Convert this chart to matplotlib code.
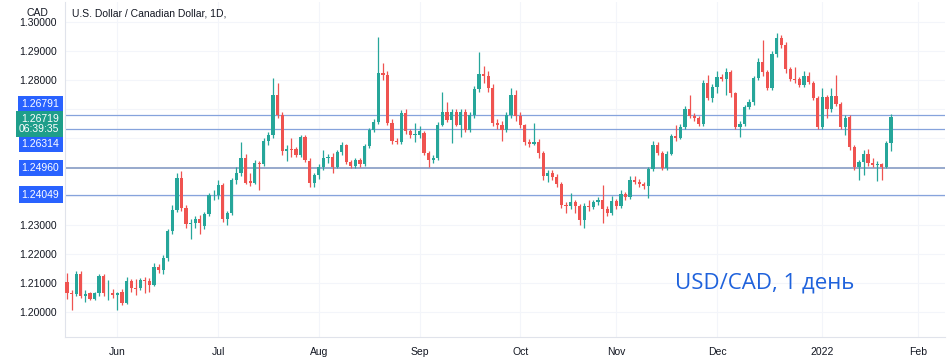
import numpy as np
import pandas as pd
import matplotlib
matplotlib.use("Agg")
import matplotlib.pyplot as plt

# daily candles USD/CAD, from 17 May 2021
opens = [1.2104, 1.2066, 1.2062, 1.2131, 1.2057, 1.2064, 1.2044, 1.2064, 1.2124, 1.2064,
         1.2067, 1.2060, 1.2069, 1.2032, 1.2107, 1.2082, 1.2082, 1.2111, 1.2108, 1.2094,
         1.2155, 1.2146, 1.2186, 1.2278, 1.2353, 1.2462, 1.2359, 1.2305, 1.2308, 1.2322,
         1.2297, 1.2337, 1.2402, 1.2404, 1.2437, 1.2320, 1.2343, 1.2455, 1.2479, 1.2531,
         1.2452, 1.2445, 1.2514, 1.2512, 1.2590, 1.2610, 1.2748, 1.2679, 1.2555, 1.2562,
         1.2562, 1.2541, 1.2603, 1.2522, 1.2446, 1.2472, 1.2500, 1.2531, 1.2533, 1.2500,
         1.2552, 1.2575, 1.2518, 1.2503, 1.2524, 1.2510, 1.2572, 1.2628, 1.2655, 1.2824,
         1.2817, 1.2652, 1.2590, 1.2588, 1.2686, 1.2624, 1.2612, 1.2612, 1.2617, 1.2548,
         1.2524, 1.2531, 1.2645, 1.2690, 1.2662, 1.2690, 1.2645, 1.2690, 1.2628, 1.2679,
         1.2769, 1.2821, 1.2814, 1.2772, 1.2652, 1.2645, 1.2628, 1.2679, 1.2748, 1.2676,
         1.2645, 1.2586, 1.2581, 1.2586, 1.2548, 1.2470, 1.2479, 1.2466, 1.2441, 1.2369,
         1.2366, 1.2378, 1.2366, 1.2317, 1.2366, 1.2362, 1.2378, 1.2386, 1.2355, 1.2340,
         1.2383, 1.2366, 1.2407, 1.2395, 1.2455, 1.2448, 1.2441, 1.2434, 1.2493, 1.2576,
         1.2548, 1.2497, 1.2545, 1.2607, 1.2600, 1.2638, 1.2700, 1.2676, 1.2669, 1.2648,
         1.2790, 1.2738, 1.2776, 1.2810, 1.2803, 1.2828, 1.2755, 1.2638, 1.2648, 1.2707,
         1.2724, 1.2807, 1.2862, 1.2828, 1.2772, 1.2890, 1.2945, 1.2921, 1.2838, 1.2803,
         1.2803, 1.2783, 1.2814, 1.2790, 1.2738, 1.2638, 1.2741, 1.2700, 1.2745, 1.2719,
         1.2638, 1.2672, 1.2569, 1.2500, 1.2517, 1.2545, 1.2514, 1.2507, 1.2510, 1.2500,
         1.2583]
highs = [1.2135, 1.2075, 1.2140, 1.2140, 1.2075, 1.2070, 1.2070, 1.2130, 1.2132, 1.2110,
         1.2080, 1.2070, 1.2080, 1.2120, 1.2115, 1.2115, 1.2118, 1.2120, 1.2118, 1.2170,
         1.2165, 1.2195, 1.2285, 1.2370, 1.2479, 1.2485, 1.2370, 1.2320, 1.2330, 1.2335,
         1.2345, 1.2410, 1.2420, 1.2455, 1.2445, 1.2350, 1.2462, 1.2500, 1.2586, 1.2545,
         1.2480, 1.2525, 1.2520, 1.2600, 1.2620, 1.2807, 1.2790, 1.2690, 1.2575, 1.2600,
         1.2570, 1.2610, 1.2610, 1.2530, 1.2480, 1.2510, 1.2560, 1.2545, 1.2550, 1.2560,
         1.2585, 1.2580, 1.2525, 1.2530, 1.2530, 1.2580, 1.2635, 1.2665, 1.2949, 1.2860,
         1.2830, 1.2665, 1.2600, 1.2697, 1.2700, 1.2630, 1.2652, 1.2640, 1.2625, 1.2555,
         1.2540, 1.2655, 1.2760, 1.2725, 1.2700, 1.2700, 1.2700, 1.2700, 1.2690, 1.2780,
         1.2897, 1.2850, 1.2830, 1.2785, 1.2665, 1.2660, 1.2690, 1.2772, 1.2765, 1.2690,
         1.2650, 1.2595, 1.2652, 1.2595, 1.2555, 1.2490, 1.2490, 1.2475, 1.2450, 1.2380,
         1.2410, 1.2385, 1.2372, 1.2375, 1.2385, 1.2385, 1.2395, 1.2438, 1.2365, 1.2400,
         1.2390, 1.2420, 1.2415, 1.2470, 1.2470, 1.2460, 1.2450, 1.2500, 1.2590, 1.2585,
         1.2555, 1.2555, 1.2615, 1.2645, 1.2650, 1.2710, 1.2748, 1.2685, 1.2675, 1.2800,
         1.2817, 1.2785, 1.2830, 1.2820, 1.2840, 1.2835, 1.2760, 1.2660, 1.2715, 1.2735,
         1.2815, 1.2875, 1.2938, 1.2835, 1.2900, 1.2962, 1.2955, 1.2930, 1.2845, 1.2846,
         1.2810, 1.2830, 1.2829, 1.2795, 1.2745, 1.2772, 1.2750, 1.2772, 1.2817, 1.2725,
         1.2680, 1.2680, 1.2575, 1.2525, 1.2560, 1.2562, 1.2530, 1.2520, 1.2515, 1.2590,
         1.2683]
lows = [1.2045, 1.2007, 1.2055, 1.2050, 1.2035, 1.2040, 1.2040, 1.2055, 1.2055, 1.2040,
        1.2050, 1.2007, 1.2025, 1.2028, 1.2070, 1.2060, 1.2075, 1.2065, 1.2070, 1.2090,
        1.2135, 1.2130, 1.2175, 1.2270, 1.2345, 1.2350, 1.2290, 1.2252, 1.2290, 1.2270,
        1.2285, 1.2330, 1.2385, 1.2390, 1.2310, 1.2300, 1.2335, 1.2440, 1.2470, 1.2440,
        1.2435, 1.2440, 1.2421, 1.2505, 1.2575, 1.2600, 1.2670, 1.2540, 1.2520, 1.2535,
        1.2535, 1.2535, 1.2518, 1.2430, 1.2430, 1.2460, 1.2490, 1.2515, 1.2480, 1.2495,
        1.2540, 1.2510, 1.2495, 1.2498, 1.2500, 1.2505, 1.2565, 1.2620, 1.2650, 1.2800,
        1.2645, 1.2580, 1.2580, 1.2580, 1.2615, 1.2600, 1.2585, 1.2600, 1.2540, 1.2501,
        1.2515, 1.2525, 1.2640, 1.2655, 1.2583, 1.2640, 1.2605, 1.2620, 1.2620, 1.2670,
        1.2760, 1.2790, 1.2760, 1.2640, 1.2630, 1.2590, 1.2620, 1.2670, 1.2660, 1.2635,
        1.2575, 1.2570, 1.2575, 1.2530, 1.2455, 1.2450, 1.2455, 1.2430, 1.2360, 1.2340,
        1.2355, 1.2340, 1.2300, 1.2290, 1.2350, 1.2355, 1.2370, 1.2307, 1.2330, 1.2335,
        1.2355, 1.2360, 1.2385, 1.2390, 1.2440, 1.2430, 1.2425, 1.2393, 1.2485, 1.2540,
        1.2490, 1.2490, 1.2540, 1.2590, 1.2595, 1.2630, 1.2670, 1.2660, 1.2640, 1.2640,
        1.2730, 1.2725, 1.2755, 1.2795, 1.2750, 1.2740, 1.2630, 1.2603, 1.2640, 1.2700,
        1.2715, 1.2800, 1.2815, 1.2765, 1.2765, 1.2880, 1.2910, 1.2825, 1.2795, 1.2790,
        1.2775, 1.2775, 1.2785, 1.2730, 1.2630, 1.2630, 1.2669, 1.2690, 1.2710, 1.2630,
        1.2610, 1.2560, 1.2490, 1.2455, 1.2472, 1.2505, 1.2500, 1.2453, 1.2455, 1.2495,
        1.2555]
closes = [1.2066, 1.2062, 1.2131, 1.2057, 1.2062, 1.2044, 1.2064, 1.2124, 1.2064, 1.2067,
          1.2060, 1.2064, 1.2032, 1.2107, 1.2082, 1.2080, 1.2111, 1.2108, 1.2094, 1.2155,
          1.2146, 1.2186, 1.2278, 1.2353, 1.2462, 1.2359, 1.2305, 1.2308, 1.2322, 1.2308,
          1.2337, 1.2402, 1.2404, 1.2437, 1.2320, 1.2343, 1.2455, 1.2479, 1.2531, 1.2445,
          1.2445, 1.2514, 1.2512, 1.2590, 1.2610, 1.2748, 1.2679, 1.2555, 1.2562, 1.2560,
          1.2541, 1.2603, 1.2524, 1.2446, 1.2472, 1.2500, 1.2531, 1.2533, 1.2500, 1.2552,
          1.2575, 1.2518, 1.2503, 1.2524, 1.2510, 1.2572, 1.2628, 1.2655, 1.2824, 1.2817,
          1.2652, 1.2590, 1.2588, 1.2686, 1.2624, 1.2610, 1.2614, 1.2624, 1.2548, 1.2524,
          1.2531, 1.2645, 1.2690, 1.2662, 1.2690, 1.2645, 1.2690, 1.2628, 1.2679, 1.2769,
          1.2821, 1.2814, 1.2772, 1.2652, 1.2645, 1.2628, 1.2679, 1.2748, 1.2676, 1.2645,
          1.2586, 1.2581, 1.2586, 1.2548, 1.2470, 1.2479, 1.2466, 1.2441, 1.2369, 1.2366,
          1.2378, 1.2366, 1.2317, 1.2366, 1.2362, 1.2378, 1.2386, 1.2355, 1.2340, 1.2383,
          1.2366, 1.2407, 1.2395, 1.2455, 1.2448, 1.2441, 1.2434, 1.2493, 1.2576, 1.2548,
          1.2497, 1.2545, 1.2607, 1.2600, 1.2638, 1.2700, 1.2676, 1.2669, 1.2648, 1.2790,
          1.2738, 1.2776, 1.2810, 1.2803, 1.2828, 1.2755, 1.2638, 1.2648, 1.2707, 1.2724,
          1.2807, 1.2862, 1.2828, 1.2772, 1.2890, 1.2945, 1.2921, 1.2838, 1.2803, 1.2800,
          1.2783, 1.2814, 1.2793, 1.2738, 1.2638, 1.2741, 1.2700, 1.2745, 1.2719, 1.2638,
          1.2669, 1.2569, 1.2500, 1.2517, 1.2545, 1.2514, 1.2507, 1.2510, 1.2500, 1.2583,
          1.2672]

level_prices = [1.26791, 1.26314, 1.24960, 1.24049]
level_labels = ["1.26791", "1.26314", "1.24960", "1.24049"]
level_shift = [8, -11, 0, 0]  # label offsets so they don't overlap
last_price = "1.26719"
countdown = "06:39:35"
y_ticks = [1.20, 1.21, 1.22, 1.23, 1.24, 1.25, 1.26, 1.27, 1.28, 1.29, 1.30]
y_shown = [1.20, 1.21, 1.22, 1.23, 1.28, 1.29, 1.30]

up_col = "#26a69a"
down_col = "#ef5350"
txt_col = "#131722"

o = np.array(opens)
h = np.array(highs)
l = np.array(lows)
c = np.array(closes)
x = np.arange(len(c))
cols = np.where(c >= o, up_col, down_col)

fig = plt.figure(figsize=(9.5, 3.63), dpi=100)
ax = fig.add_axes([65 / 950, 26 / 363, 880 / 950, 335 / 363])

# month ticks from business day calendar
dates = pd.bdate_range("2021-05-17", periods=195)
month_idx = [i for i in range(1, len(dates)) if dates[i].month != dates[i - 1].month]
month_lab = [str(dates[i].year) if dates[i].month == 1 else dates[i].strftime("%b") for i in month_idx]

for yv in y_ticks:
    ax.axhline(yv, color="#f3f5fa", lw=0.8, zorder=0)
for xv in month_idx:
    ax.axvline(xv, color="#f3f5fa", lw=0.8, zorder=0)

for lv in level_prices:
    if lv == 1.24960:
        ax.axhline(lv, color="#97a9cc", lw=1.4, zorder=1)
    else:
        ax.axhline(lv, color="#86a3dc", lw=0.9, zorder=1)

ax.vlines(x, l, h, colors=cols, lw=0.9, zorder=2)
body = np.maximum(np.abs(c - o), 0.0003)
ax.bar(x, body, bottom=np.minimum(o, c), width=0.7, color=cols, zorder=3)

ax.set_xlim(-0.45, 191.8)
ax.set_ylim(1.1914, 1.3069)

ax.set_xticks(month_idx)
ax.set_xticklabels(month_lab, fontsize=7.5, color=txt_col, family="Liberation Sans")
ax.set_yticks(y_ticks)
ax.set_yticklabels(["%.5f" % v if v in y_shown else "" for v in y_ticks],
                   fontsize=7.5, color=txt_col, family="Liberation Sans")
ax.tick_params(length=0, pad=6)
ax.tick_params(axis="x", pad=7)
for s in ["top", "right"]:
    ax.spines[s].set_visible(False)
ax.spines["left"].set_color("#e0e3eb")
ax.spines["bottom"].set_color("#e0e3eb")

for lv, lab, dy in zip(level_prices, level_labels, level_shift):
    ax.annotate(lab, xy=(0, lv), xycoords=ax.get_yaxis_transform(),
                xytext=(-4, dy), textcoords="offset points", ha="right", va="center",
                color="white", fontsize=7.5, family="Liberation Sans",
                bbox=dict(boxstyle="square,pad=0.3", fc="#2962ff", ec="none"))

ax.annotate(last_price + "\n" + countdown, xy=(0, float(last_price)),
            xycoords=ax.get_yaxis_transform(), xytext=(-4, -5), textcoords="offset points",
            ha="right", va="center", color="white", fontsize=7.5, family="Liberation Sans",
            linespacing=1.05, zorder=5,
            bbox=dict(boxstyle="square,pad=0.3", fc="#1e9e8a", ec="none"))

fig.text(37 / 950, 1 - 13 / 363, "CAD", fontsize=7.5, color=txt_col, ha="center", va="center",
         family="Liberation Sans")
fig.text(72 / 950, 1 - 13 / 363, "U.S. Dollar / Canadian Dollar, 1D,", fontsize=7.5,
         color=txt_col, ha="left", va="center", family="Liberation Sans")

ax.text(0.795, 0.161, "USD/CAD, 1 день", transform=ax.transAxes, fontsize=16,
        color="#1f62dc", ha="center", va="center", family="Open Sans")

plt.savefig("out.png", dpi=100)
